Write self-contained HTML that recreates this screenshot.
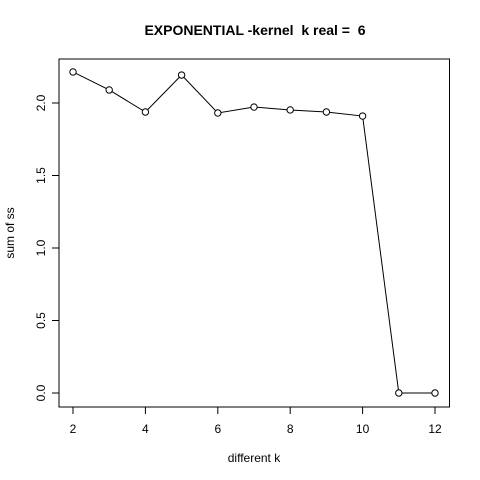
<!DOCTYPE html>
<html><head><meta charset="utf-8"><style>
body{margin:0;background:#fff}
svg{display:block;font-family:"Liberation Sans",Arial,sans-serif}
</style></head><body>
<svg id="chart" width="480" height="480" viewBox="0 0 480 480">
<rect width="480" height="480" fill="#fff"/>
<text x="255" y="35" text-anchor="middle" font-size="14" font-weight="bold" xml:space="preserve">EXPONENTIAL -kernel  k real =  6</text>
<rect x="59" y="59" width="390.5" height="348" fill="none" stroke="#000" stroke-width="1"/>
<text x="254" y="462" text-anchor="middle" font-size="12">different k</text>
<text transform="translate(14,233) rotate(-90)" text-anchor="middle" font-size="12">sum of ss</text>
<g id="xaxis"></g>
<g id="yaxis"></g>
<g id="series"></g>
</svg>
<script>
const ks = [2,3,4,5,6,7,8,9,10,11,12];
const ss = [2.214,2.09,1.938,2.193,1.931,1.972,1.952,1.938,1.91,0,0];
const xTicks = [2,4,6,8,10,12];
const yTicks = [0,0.5,1,1.5,2];
const yTickLabels = ["0.0","0.5","1.0","1.5","2.0"];
const NS="http://www.w3.org/2000/svg";
function X(v){return 73+(v-2)*36.2;}
function Y(v){return 393-v*145;}
function mk(tag,attrs,parent){const e=document.createElementNS(NS,tag);for(const k in attrs)e.setAttribute(k,attrs[k]);parent.appendChild(e);return e;}
const xa=document.getElementById('xaxis'),ya=document.getElementById('yaxis'),sg=document.getElementById('series');
mk('line',{x1:X(2),x2:X(12),y1:407,y2:407,stroke:'#000'},xa);
xTicks.forEach(t=>{
  const l=mk('line',{x1:X(t),x2:X(t),y1:407,y2:414,stroke:'#000'},xa);
  
  
  const tx=mk('text',{x:X(t),y:433,'text-anchor':'middle','font-size':12},xa);
  tx.textContent=t;
  
  
});
mk('line',{x1:59,x2:59,y1:Y(0),y2:Y(2),stroke:'#000'},ya);
yTicks.forEach((t,i)=>{
  const l=mk('line',{x1:52,x2:59,y1:Y(t),y2:Y(t),stroke:'#000'},ya);
  
  
  const tx=mk('text',{transform:`translate(45,${Y(t)}) rotate(-90)`,'text-anchor':'middle','font-size':12},ya);
  tx.textContent=yTickLabels[i];
  
  
});
const pl=mk('polyline',{points:ks.map((k,i)=>X(k)+','+Y(ss[i])).join(' '),fill:'none',stroke:'#000'},sg);


ks.forEach((k,i)=>{
  const c=mk('circle',{cx:X(k),cy:Y(ss[i]),r:3.2,fill:'#fff',stroke:'#000'},sg);
  
  
});
</script>
</body></html>
